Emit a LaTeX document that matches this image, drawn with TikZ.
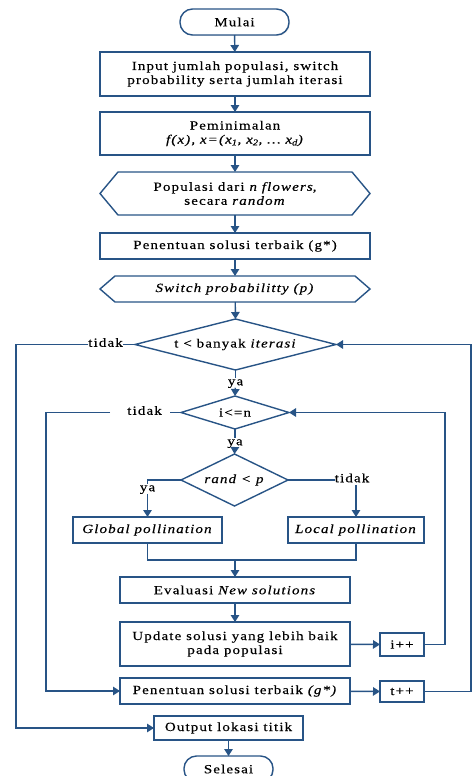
\documentclass[tikz,border=0pt]{standalone}
\usepackage{fontspec}
\setmainfont{Liberation Serif}[FakeStretch=1.2, LetterSpace=9, FakeBold=0.3]
\usetikzlibrary{arrows.meta,shadows,calc}
\definecolor{fb}{RGB}{40,84,134}
\begin{document}
\begin{tikzpicture}[x=1pt,y=-1pt,
  every node/.style={font=\fontsize{12.5}{14}\selectfont, inner sep=0pt, outer sep=0pt},
  box/.style={draw=fb, line width=1.4pt, fill=white, align=center,
    drop shadow={opacity=0.18,shadow xshift=1pt,shadow yshift=-1pt}},
  term/.style={box, rounded corners=12.5pt},
  plain/.style={align=center},
  con/.style={draw=fb, line width=1.4pt},
  arr/.style={con, -{Triangle[length=7pt,width=8.5pt]}},
  lbl/.style={inner sep=0pt, text height=7pt, text depth=2.5pt}
]
\useasboundingbox (0,0) rectangle (472,776);

% nodes
\node[term, minimum width=109pt, minimum height=26pt] (start) at (234.5,22) {Mulai};
\node[box, minimum width=270pt, minimum height=44pt] (input) at (235,74) {Input jumlah populasi, switch\\probability serta jumlah iterasi};
\node[box, minimum width=270pt, minimum height=43pt] (minim) at (235,133.5) {Peminimalan\\\textit{f(x), x=(x\textsubscript{1}, x\textsubscript{2}, … x\textsubscript{d})}};
\node[plain, minimum width=270pt, minimum height=43pt] (pop) at (235,193.5) {Populasi dari \textit{n flowers},\\secara \textit{random}};
\node[box, minimum width=270pt, minimum height=26pt] (best1) at (235,246) {Penentuan solusi terbaik (g*)};
\node[plain, minimum width=270pt, minimum height=26pt] (switch) at (235,289) {\textit{Switch probabilitty (p)}};
\node[plain, minimum width=201pt, minimum height=51pt] (d1) at (235.5,344.5) {t < banyak \textit{iterasi}};
\node[plain, minimum width=108pt, minimum height=33pt] (d2) at (235,412.5) {i<=n};
\node[plain, minimum width=107pt, minimum height=52pt] (d3) at (234.5,480) {\textit{rand < p}};
\node[box, minimum width=149pt, minimum height=26pt] (glob) at (147.5,530) {\textit{Global pollination}};
\node[box, minimum width=136pt, minimum height=26pt] (loc) at (356,530) {\textit{Local pollination}};
\node[box, minimum width=230pt, minimum height=26pt] (eval) at (235,590) {Evaluasi \textit{New solutions}};
\node[box, minimum width=230pt, minimum height=44pt] (upd) at (235,644) {Update solusi yang lebih baik\\pada populasi};
\node[box, minimum width=44pt, minimum height=23pt] (ipp) at (402,644.5) {i++};
\node[box, minimum width=230pt, minimum height=26pt] (best2) at (235,691) {Penentuan solusi terbaik \textit{(g*)}};
\node[box, minimum width=44pt, minimum height=21pt] (tpp) at (402,691.5) {t++};
\node[box, minimum width=149pt, minimum height=24pt] (out) at (228.5,728) {Output lokasi titik};
\node[term, minimum width=89pt, minimum height=26pt] (end) at (228.5,769) {Selesai};

% hexagons
\draw[con] (pop.west) -- ($(pop.north west)+(18,0)$) -- ($(pop.north east)+(-18,0)$) -- (pop.east) -- ($(pop.south east)+(-18,0)$) -- ($(pop.south west)+(18,0)$) -- cycle;
\draw[con] (switch.west) -- ($(switch.north west)+(15,0)$) -- ($(switch.north east)+(-15,0)$) -- (switch.east) -- ($(switch.south east)+(-15,0)$) -- ($(switch.south west)+(15,0)$) -- cycle;
% diamonds
\draw[con] (d1.west) -- (d1.north) -- (d1.east) -- (d1.south) -- cycle;
\draw[con] (d2.west) -- (d2.north) -- (d2.east) -- (d2.south) -- cycle;
\draw[con] (d3.west) -- (d3.north) -- (d3.east) -- (d3.south) -- cycle;

% labels
\node[lbl] (l1) at (105.5,344.5) {tidak};
\node[lbl] (y1) at (235.5,383) {ya};
\node[lbl] (l2) at (144.5,412.5) {tidak};
\node[lbl] (y2) at (235,443) {ya};
\node[lbl] (y3) at (147.5,489) {ya};
\node[lbl] (t3) at (352,480) {tidak};
\coordinate (g2a) at (170,412.5);
\coordinate (g2b) at (110,412.5);
\coordinate (j) at (235,560);

% connectors
\draw[arr] (start) -- (input);
\draw[arr] (input) -- (minim);
\draw[arr] (minim) -- (pop);
\draw[arr] (pop) -- (best1);
\draw[arr] (best1) -- (switch);
\draw[arr] (switch) -- (d1.north);
\draw[con] (d1.west) -- (l1);
\draw[arr] (l1) -- (16,344.5) |- (out.west);
\draw[con] (d1.south) -- (y1);
\draw[arr] (y1) -- (d2.north);
\draw[con] (d2.west) -- (g2a);
\draw[arr] (g2b) -- (46,412.5) |- (best2.west);
\draw[con] (d2.south) -- (y2);
\draw[arr] (y2) -- (d3.north);
\draw[con] (d3.west) -| (y3);
\draw[arr] (y3) -- (glob.north);
\draw[con] (d3.east) -- (t3);
\draw[arr] (t3.south -| loc.north) -- (loc.north);
\draw[con] (glob.south) |- (j) -| (loc.south);
\draw[arr] (j) -- (eval.north);
\draw[arr] (eval) -- (upd);
\draw[arr] (upd) -- (ipp);
\draw[arr] (ipp.east) -- (445,644.5) |- (d2.east);
\draw[arr] (best2) -- (tpp);
\draw[arr] (tpp.east) -- (471,691.5) |- (d1.east);
\draw[arr] (out) -- (end);
\end{tikzpicture}
\end{document}
